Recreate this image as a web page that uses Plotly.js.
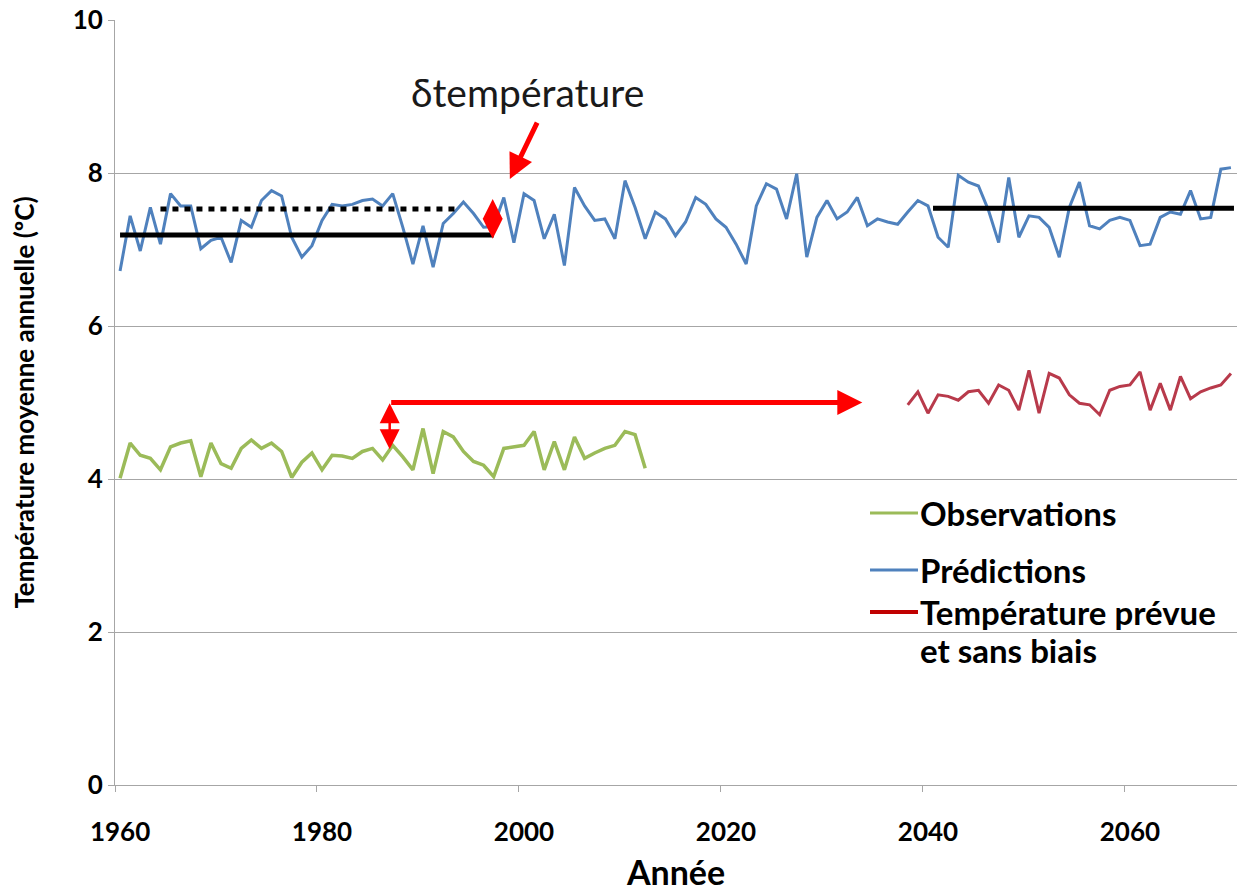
<!DOCTYPE html>
<html>
<head>
<meta charset="utf-8">
<script src="https://cdn.plot.ly/plotly-3.0.1.min.js"></script>
<style>html,body{margin:0;padding:0;background:#fff;}#chart{width:1239px;height:892px;}</style>
</head>
<body>
<div id="chart"></div>
<script>
// ---- Data ----
const seriesNames = ["Observations", "Prédictions", "Température prévue<br>et sans biais"];

const obsYears = [1960,1961,1962,1963,1964,1965,1966,1967,1968,1969,1970,1971,1972,1973,1974,1975,1976,1977,1978,1979,1980,1981,1982,1983,1984,1985,1986,1987,1988,1989,1990,1991,1992,1993,1994,1995,1996,1997,1998,1999,2000,2001,2002,2003,2004,2005,2006,2007,2008,2009,2010,2011,2012];
const obsValues = [4.01,4.47,4.31,4.27,4.12,4.42,4.47,4.50,4.03,4.47,4.20,4.14,4.40,4.51,4.40,4.47,4.36,4.02,4.22,4.34,4.12,4.31,4.30,4.27,4.36,4.40,4.25,4.44,4.29,4.12,4.66,4.07,4.62,4.55,4.36,4.23,4.18,4.03,4.40,4.42,4.44,4.62,4.12,4.49,4.12,4.55,4.27,4.34,4.40,4.44,4.62,4.58,4.14];

const predYears = [1960,1961,1962,1963,1964,1965,1966,1967,1968,1969,1970,1971,1972,1973,1974,1975,1976,1977,1978,1979,1980,1981,1982,1983,1984,1985,1986,1987,1988,1989,1990,1991,1992,1993,1994,1995,1996,1997,1998,1999,2000,2001,2002,2003,2004,2005,2006,2007,2008,2009,2010,2011,2012,2013,2014,2015,2016,2017,2018,2019,2020,2021,2022,2023,2024,2025,2026,2027,2028,2029,2030,2031,2032,2033,2034,2035,2036,2037,2038,2039,2040,2041,2042,2043,2044,2045,2046,2047,2048,2049,2050,2051,2052,2053,2054,2055,2056,2057,2058,2059,2060,2061,2062,2063,2064,2065,2066,2067,2068,2069,2070];
const predValues = [6.72,7.44,6.98,7.55,7.07,7.73,7.57,7.57,7.01,7.12,7.16,6.83,7.38,7.29,7.64,7.77,7.70,7.16,6.90,7.05,7.38,7.59,7.57,7.59,7.64,7.66,7.57,7.73,7.29,6.81,7.31,6.77,7.34,7.47,7.62,7.47,7.29,7.30,7.68,7.09,7.73,7.64,7.14,7.46,6.79,7.81,7.57,7.38,7.40,7.14,7.90,7.55,7.14,7.49,7.40,7.18,7.36,7.68,7.59,7.40,7.29,7.07,6.81,7.57,7.86,7.79,7.40,7.99,6.90,7.42,7.64,7.40,7.49,7.68,7.31,7.40,7.36,7.33,7.49,7.64,7.57,7.16,7.03,7.97,7.88,7.83,7.51,7.09,7.94,7.16,7.44,7.42,7.29,6.90,7.55,7.88,7.31,7.27,7.38,7.42,7.38,7.05,7.07,7.42,7.49,7.46,7.77,7.40,7.42,8.05,8.07];

const corrYears = [2038,2039,2040,2041,2042,2043,2044,2045,2046,2047,2048,2049,2050,2051,2052,2053,2054,2055,2056,2057,2058,2059,2060,2061,2062,2063,2064,2065,2066,2067,2068,2069,2070];
const corrValues = [4.97,5.14,4.86,5.10,5.08,5.03,5.14,5.16,4.99,5.23,5.16,4.90,5.42,4.86,5.38,5.32,5.10,4.99,4.97,4.84,5.16,5.21,5.23,5.40,4.90,5.25,4.90,5.34,5.05,5.14,5.19,5.23,5.38];

// reference period means (black lines)
const histMeanX = [1960, 1997];
const histMeanY = [7.19, 7.19];
const histPredMeanX = [1964, 1993.4];
const histPredMeanY = [7.53, 7.53];
const futMeanX = [2040.5, 2070.3];
const futMeanY = [7.54, 7.54];

// annotation anchors
const deltaArrowX = 1996.9, deltaArrowY = [7.12, 7.66];
const obsArrowX = 1986.7, obsArrowY = [4.37, 4.99];
const shiftArrowX = [1986.7, 2033.5], shiftArrowY = 5.0;
const deltaLabel = "δtempérature";

const xTickVals = [1960, 1980, 2000, 2020, 2040, 2060];
const yTickVals = [0, 2, 4, 6, 8, 10];

const cObs = "#9BBB59", cPred = "#4F81BD", cCorr = "#B83A4B", cArrow = "#FF0000";
const FONT = "Lato, 'Open Sans', sans-serif";

const traces = [
  {x: obsYears, y: obsValues, type: "scatter", mode: "lines", name: seriesNames[0],
   line: {color: cObs, width: 3.5}, showlegend: false},
  {x: predYears, y: predValues, type: "scatter", mode: "lines", name: seriesNames[1],
   line: {color: cPred, width: 3}, showlegend: false},
  {x: corrYears, y: corrValues, type: "scatter", mode: "lines", name: seriesNames[2],
   line: {color: cCorr, width: 3}, showlegend: false},
  {x: histMeanX, y: histMeanY, type: "scatter", mode: "lines", line: {color: "#000", width: 5}, showlegend: false, hoverinfo: "skip"},
  {x: histPredMeanX, y: histPredMeanY, type: "scatter", mode: "lines", line: {color: "#000", width: 5, dash: "6px,6px"}, showlegend: false, hoverinfo: "skip"},
  {x: futMeanX, y: futMeanY, type: "scatter", mode: "lines", line: {color: "#000", width: 5}, showlegend: false, hoverinfo: "skip"}
];

// manual legend
function px2paperX(px){ return (px - 115) / 1122; }
function px2paperY(py){ return (785 - py) / 765; }
const legendRows = [
  {text: seriesNames[0], color: cObs, y: 513, lw: 3},
  {text: seriesNames[1], color: cPred, y: 570, lw: 3},
  {text: seriesNames[2], color: "#C00000", y: 612, lw: 4}
];

const shapes = legendRows.map(r => ({
  type: "line", xref: "paper", yref: "paper",
  x0: px2paperX(870), x1: px2paperX(918), y0: px2paperY(r.y), y1: px2paperY(r.y),
  line: {color: r.color, width: r.lw}
}));

const annotations = [];
legendRows.forEach(r => {
  r.text.split("<br>").forEach((line, i) => {
    annotations.push({
      xref: "paper", yref: "paper", x: px2paperX(918), y: px2paperY(r.y + i * 38),
      xanchor: "left", yanchor: "middle", align: "left", showarrow: false,
      text: "<b>" + line + "</b>",
      font: {family: FONT, size: 33, color: "#000"}
    });
  });
});

annotations.push(
  {xref: "paper", yref: "paper", x: px2paperX(527), y: px2paperY(92), xanchor: "center", yanchor: "middle",
   showarrow: false, text: deltaLabel, font: {family: FONT, size: 39, color: "#1a1a1a"}},
  // diagonal arrow pointing to delta
  {x: 1998.6, y: 7.92, xref: "x", yref: "y", ax: 28, ay: -58, axref: "pixel", ayref: "pixel",
   showarrow: true, arrowhead: 2, arrowsize: 1, arrowwidth: 5, arrowcolor: cArrow, text: ""},
  // delta double arrow
  {x: deltaArrowX, y: deltaArrowY[1], xref: "x", yref: "y", ax: deltaArrowX, ay: deltaArrowY[0], axref: "x", ayref: "y",
   showarrow: true, arrowhead: 2, startarrowhead: 2, arrowside: "end+start", arrowsize: 1.6, startarrowsize: 1.6, arrowwidth: 2.5, arrowcolor: cArrow, text: ""},
  // obs double arrow
  {x: obsArrowX, y: obsArrowY[1], xref: "x", yref: "y", ax: obsArrowX, ay: obsArrowY[0], axref: "x", ayref: "y",
   showarrow: true, arrowhead: 2, startarrowhead: 2, arrowside: "end+start", arrowsize: 1.6, startarrowsize: 1.6, arrowwidth: 2.5, arrowcolor: cArrow, text: ""},
  // shift arrow
  {x: shiftArrowX[1], y: shiftArrowY, xref: "x", yref: "y", ax: shiftArrowX[0], ay: shiftArrowY, axref: "x", ayref: "y",
   showarrow: true, arrowhead: 2, arrowsize: 1, arrowwidth: 5, arrowcolor: cArrow, text: ""}
);

const layout = {
  width: 1239, height: 892,
  margin: {l: 115, r: 2, t: 20, b: 107},
  paper_bgcolor: "#fff", plot_bgcolor: "#fff",
  showlegend: false,
  xaxis: {
    range: [1959.5, 2070.6], tickvals: xTickVals, ticktext: xTickVals.map(String),
    ticks: "", showgrid: false, zeroline: false,
    showline: true, linecolor: "#A6A6A6", linewidth: 1,
    minor: {ticks: "outside", tick0: 1959.5, dtick: 20, ticklen: 6, tickcolor: "#A6A6A6", showgrid: false},
    ticklabelstandoff: 24,
    tickfont: {family: FONT, size: 26, color: "#000", weight: "bold"},
    title: {text: "<b>Année</b>", font: {family: FONT, size: 34, color: "#000"}, standoff: 14}
  },
  yaxis: {
    range: [0, 10], tickvals: yTickVals, ticks: "outside", ticklen: 6, tickcolor: "#A6A6A6",
    showgrid: true, gridcolor: "#A6A6A6", gridwidth: 1, zeroline: false,
    showline: true, linecolor: "#A6A6A6", linewidth: 1,
    tickfont: {family: FONT, size: 26, color: "#000", weight: "bold"},
    title: {text: "<b>Température moyenne annuelle (ºC)</b>", font: {family: FONT, size: 26, color: "#000"}, standoff: 30}
  },
  shapes: shapes,
  annotations: annotations,
  font: {family: FONT}
};

Plotly.newPlot("chart", traces, layout, {displayModeBar: false, staticPlot: true});
</script>
</body>
</html>
